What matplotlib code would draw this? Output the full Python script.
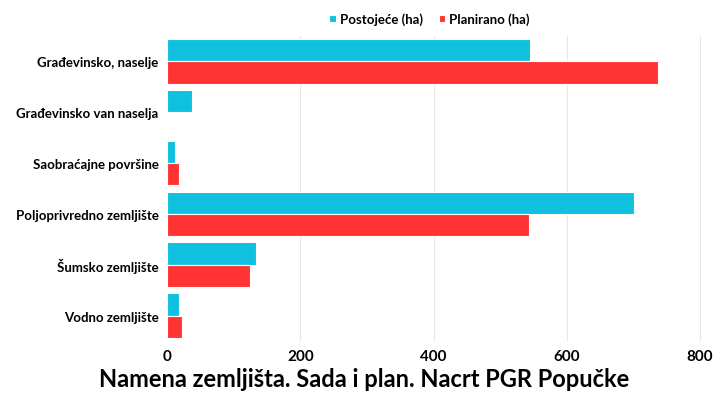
import matplotlib
matplotlib.use("Agg")
import matplotlib.pyplot as plt
import numpy as np

categories = ["Građevinsko, naselje", "Građevinsko van naselja", "Saobraćajne površine",
              "Poljoprivredno zemljište", "Šumsko zemljište", "Vodno zemljište"]
postojece = [545, 37, 12, 701, 133, 18]
planirano = [737, 1, 18, 544, 124, 23]
xticks = [0, 200, 400, 600, 800]

plt.rcParams["font.family"] = "Lato"
fig = plt.figure(figsize=(7.28, 4.10), dpi=100)
ax = fig.add_axes([167/728, 1-342/410, 553/728, 305/410])
y = np.arange(len(categories))
h = 0.44
ax.barh(y - h/2, postojece, height=h, color="#0FC0DF", label="Postojeće (ha)", edgecolor="white", linewidth=0.8)
ax.barh(y + h/2, planirano, height=h, color="#FF3333", label="Planirano (ha)", edgecolor="white", linewidth=0.8)
ax.set_ylim(len(categories) - 0.5, -0.5)
ax.set_xlim(0, 830)
ax.set_xticks(xticks)
ax.set_xticklabels([str(t) for t in xticks], fontsize=11, fontweight="bold")
ax.set_yticks(y)
ax.set_yticklabels(categories, fontsize=9.5, fontweight="bold")
ax.tick_params(length=0, pad=6)
for t in xticks[1:]:
    ax.axvline(t, color="#e6e6e6", linewidth=0.8, zorder=0)
for s in ax.spines.values():
    s.set_visible(False)
leg = fig.legend(loc="center", bbox_to_anchor=(0.59, 1-20/410), ncol=2, frameon=False,
                 prop={"weight": "bold", "size": 9.5}, handlelength=0.5, handleheight=0.5,
                 columnspacing=1.2, handletextpad=0.3)
fig.text(0.5, 1-380/410, "Namena zemljišta. Sada i plan. Nacrt PGR Popučke", ha="center", va="center",
         fontsize=17, fontweight="bold")
fig.savefig("out.png", dpi=100)
